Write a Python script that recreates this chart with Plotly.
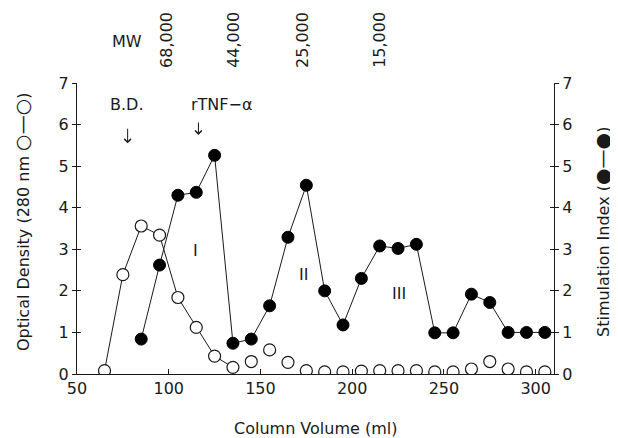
import plotly.graph_objects as go

# ---- data ----
volume_od = [65, 75, 85, 95, 105, 115, 125, 135, 145, 155, 165, 175, 185, 195, 205,
             215, 225, 235, 245, 255, 265, 275, 285, 295, 305]
optical_density = [0.08, 2.39, 3.56, 3.34, 1.84, 1.12, 0.43, 0.16, 0.30, 0.58, 0.28, 0.08,
                   0.05, 0.05, 0.07, 0.08, 0.08, 0.08, 0.05, 0.05, 0.12, 0.30, 0.12, 0.05, 0.05]
od_line_points = 8  # connecting line drawn only over the first peak

volume_si = [85, 95, 105, 115, 125, 135, 145, 155, 165, 175, 185, 195, 205, 215, 225,
             235, 245, 255, 265, 275, 285, 295, 305]
stimulation_index = [0.84, 2.62, 4.30, 4.37, 5.26, 0.74, 0.84, 1.64, 3.29, 4.54, 2.00, 1.18,
                     2.30, 3.08, 3.02, 3.12, 0.99, 0.99, 1.92, 1.72, 1.00, 1.00, 1.00]

x_ticks = [50, 100, 150, 200, 250, 300]
y_ticks = [0, 1, 2, 3, 4, 5, 6, 7]

mw_labels = ["68,000", "44,000", "25,000", "15,000"]
mw_positions = [0.1887, 0.329, 0.474, 0.635]   # paper fraction of plot width

peak_labels = ["I", "II", "III"]
peak_x = [114.5, 173.4, 225.3]
peak_y = [2.96, 2.40, 1.94]

FONT = "DejaVu Sans"
INK = "#1a1a1a"

fig = go.Figure()

fig.add_trace(go.Scatter(
    x=volume_od[:od_line_points], y=optical_density[:od_line_points],
    mode="lines", line=dict(color=INK, width=1), hoverinfo="skip"))
fig.add_trace(go.Scatter(
    x=volume_si, y=stimulation_index, mode="lines+markers", yaxis="y2",
    line=dict(color=INK, width=1),
    marker=dict(size=12, color="black", line=dict(color="black", width=1))))
fig.add_trace(go.Scatter(
    x=volume_od, y=optical_density, mode="markers",
    marker=dict(size=12, color="white", line=dict(color=INK, width=1.2))))
# invisible traces to carry the tick-overlay axes
fig.add_trace(go.Scatter(x=[None], y=[None], yaxis="y3", showlegend=False))
fig.add_trace(go.Scatter(x=[None], y=[None], yaxis="y4", showlegend=False))

tickfont = dict(family=FONT, size=16, color=INK)
axis_common = dict(range=[0, 7], tickvals=y_ticks, showgrid=False, zeroline=False,
                   linecolor=INK, linewidth=1, tickcolor=INK, tickwidth=1, ticklen=4,
                   tickfont=tickfont)

# page has an 8px body margin, so the figure is sized to fit inside it
fig.update_layout(
    width=610, height=430, autosize=False,
    margin=dict(l=69, r=64, t=75, b=64),
    paper_bgcolor="white", plot_bgcolor="white",
    showlegend=False,
    xaxis=dict(range=[50, 310], tickvals=x_ticks, showgrid=False, zeroline=False,
               showline=True, linecolor=INK, linewidth=1, ticks="inside", ticklen=5,
               tickcolor=INK, tickfont=tickfont),
    yaxis=dict(**axis_common, side="left", showline=True, ticks="outside"),
    yaxis2=dict(**axis_common, side="right", overlaying="y", showline=True, ticks="outside"),
    yaxis3=dict(**axis_common, side="left", overlaying="y", showline=False, ticks="inside",
                showticklabels=False),
    yaxis4=dict(**axis_common, side="right", overlaying="y", showline=False, ticks="inside",
                showticklabels=False),
)

ann_font = dict(family=FONT, size=16, color=INK)
C = dict(xanchor="center", yanchor="middle", showarrow=False, font=ann_font)
BIG = '<span style="font-size:19px">'
annotations = []
annotations.append(dict(xref="paper", yref="paper", x=0.1048, y=1.141, text="MW", **C))
for lbl, xp in zip(mw_labels, mw_positions):
    annotations.append(dict(xref="paper", yref="paper", x=xp, y=1.148, text=lbl,
                            textangle=-90, **C))
annotations.append(dict(x=77.0, y=6.49, text="B.D.", **C))
annotations.append(dict(x=128.8, y=6.49, text="rTNF\u2212\u03b1", **C))
annotations.append(dict(x=77.6, y=5.55, ax=0, ay=-16, text="", showarrow=True,
                        arrowhead=4, arrowsize=1.3, arrowwidth=1, arrowcolor=INK))
annotations.append(dict(x=116.2, y=5.75, ax=0, ay=-14, text="", showarrow=True,
                        arrowhead=4, arrowsize=1.3, arrowwidth=1, arrowcolor=INK))
for lbl, xp, yp in zip(peak_labels, peak_x, peak_y):
    annotations.append(dict(x=xp, y=yp, text=lbl, **C))
annotations.append(dict(xref="paper", yref="paper", x=0.501, y=-0.1856,
                        text="Column Volume (ml)", **C))
annotations.append(dict(xref="paper", yref="paper", x=-0.1153, y=0.522,
                        text="Optical Density (280 nm " + BIG + "\u25cb\u2014\u25cb</span>)",
                        textangle=-90, **C))
annotations.append(dict(xref="paper", yref="paper", x=1.1006, y=0.488,
                        text="Stimulation Index (" + BIG + "\u25cf\u2014\u25cf</span>)",
                        textangle=-90, **C))
fig.update_layout(annotations=annotations)

fig.write_html("out.html")
